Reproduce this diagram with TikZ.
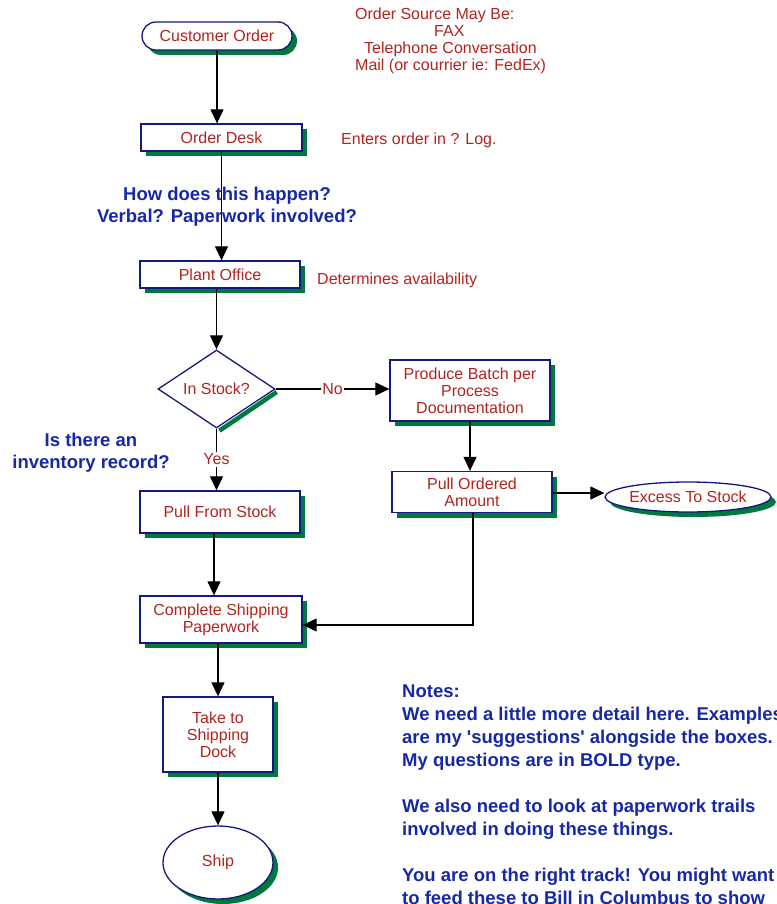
\documentclass[tikz,border=0pt]{standalone}
\usepackage{fontspec}
\setmainfont{Liberation Sans}[Ligatures=TeXOff]
\usetikzlibrary{shapes.geometric,arrows.meta,shadows}
\definecolor{boxline}{RGB}{20,25,130}
\definecolor{shadowgreen}{RGB}{0,120,62}
\definecolor{labelred}{RGB}{178,36,30}
\definecolor{noteblue}{RGB}{22,40,165}
\begin{document}
\begin{tikzpicture}[x=1pt,y=-1pt,
  font=\fontsize{16}{17}\selectfont,
  shaded/.style={drop shadow={shadow xshift=5pt,shadow yshift=-5pt,fill=shadowgreen,opacity=1}},
  procbox/.style={draw=boxline,line width=1.3pt,fill=white,text=labelred,
    align=center,inner sep=0pt,shaded},
  terminal/.style={procbox,rounded corners=14pt},
  oval/.style={procbox,ellipse},
  decision/.style={draw=boxline,line width=1.3pt,fill=white,text=labelred,
    diamond,inner sep=0pt,aspect=1.5},
  flow/.style={line width=1.2pt,-{Triangle[length=14pt,width=13pt]}},
  edgelabel/.style={fill=white,text=labelred,inner sep=1.5pt},
  remark/.style={text=labelred,align=left,inner sep=0pt},
  question/.style={text=noteblue,font=\fontsize{18.5}{22}\bfseries\selectfont,
    align=center,inner sep=0pt},
  notes/.style={text=noteblue,font=\fontsize{18.5}{23}\bfseries\selectfont,
    align=left,inner sep=0pt}]
\clip (0,0) rectangle (776,904);

% process shapes
\node[terminal,minimum width=150pt,minimum height=28pt] (cust) at (217,36) {Customer Order};
\node[procbox,minimum width=161pt,minimum height=27pt] (desk) at (221.5,137.5) {Order Desk};
\node[procbox,minimum width=160pt,minimum height=27pt] (plant) at (220,274.5) {Plant Office};
\node[decision,minimum width=117pt,minimum height=78pt] (stock) at (216.5,389) {In Stock?};
\draw[draw=shadowgreen,line width=4.5pt] ([xshift=1pt,yshift=-3pt]stock.east) -- ([xshift=3pt,yshift=-2pt]stock.south);
\node[procbox,minimum width=160pt,minimum height=61pt] (batch) at (470,390.5)
  {Produce Batch per\\Process\\Documentation};
\node[procbox,minimum width=160pt,minimum height=41pt] (pullord) at (472,492)
  {Pull Ordered\\Amount};
\node[oval,minimum width=160pt,minimum height=30pt] (excess) at (688,497) {Excess To Stock};
\node[procbox,minimum width=160pt,minimum height=42pt] (pullstock) at (220,512) {Pull From Stock};
\node[procbox,minimum width=162pt,minimum height=47pt] (complete) at (221,619.5)
  {Complete Shipping\\Paperwork};
\node[procbox,minimum width=110pt,minimum height=75pt] (dock) at (218,734.5)
  {Take to\\Shipping\\Dock};
\node[oval,minimum width=110pt,minimum height=73pt] (ship) at (218,862.5) {Ship};

% connectors
\draw[flow] (cust.south) -- (cust.south |- desk.north);
\draw[flow] (desk.south) -- (desk.south |- plant.north);
\draw[flow] (plant.south -| stock.north) -- (stock.north);
\draw[flow] (stock.east) -- node[edgelabel] {No} (stock.east -| batch.west);
\draw[flow] (stock.south) -- node[edgelabel] {Yes} (stock.south |- pullstock.north);
\draw[flow] (batch.south) -- (batch.south |- pullord.north);
\draw[flow] ([yshift=-1pt]pullord.east) -- ([yshift=-1pt]pullord.east -| excess.west);
\draw[flow] ([xshift=1pt]pullord.south) |- ([yshift=-5.5pt]complete.east);
\draw[flow] ([xshift=-6pt]pullstock.south) -- ([xshift=-6pt]pullstock.south |- complete.north);
\draw[flow] ([xshift=-3pt]complete.south) -- ([xshift=-3pt]complete.south |- dock.north);
\draw[flow] (dock.south) -- (ship.north);

% side remarks (base anchor = baseline of the last line)
\node[remark,anchor=base west] (source) at (355,70.7)
  {Order Source May Be:\\\hspace*{79pt}FAX\\\hspace*{9pt}Telephone Conversation\\Mail (or courrier ie: FedEx)};
\node[remark,anchor=base west] (logremark) at (341,144.7) {Enters order in ? Log.};
\node[remark,anchor=base west] (availremark) at (317,284.7) {Determines availability};

% questions
\node[question,anchor=base] (howq) at (227,222.5) {How does this happen?\\Verbal? Paperwork involved?};
\node[question,anchor=base] (invq) at (91,468.5) {Is there an\\inventory record?};

% notes, running off the page edge
\node[notes,anchor=base west] (notes) at (402,904)
  {Notes:\\We need a little more detail here. Examples\\are my 'suggestions' alongside the boxes.\\My questions are in BOLD type.\\[23pt]We also need to look at paperwork trails\\involved in doing these things.\\[23pt]You are on the right track! You might want\\to feed these to Bill in Columbus to show};
\end{tikzpicture}
\end{document}
